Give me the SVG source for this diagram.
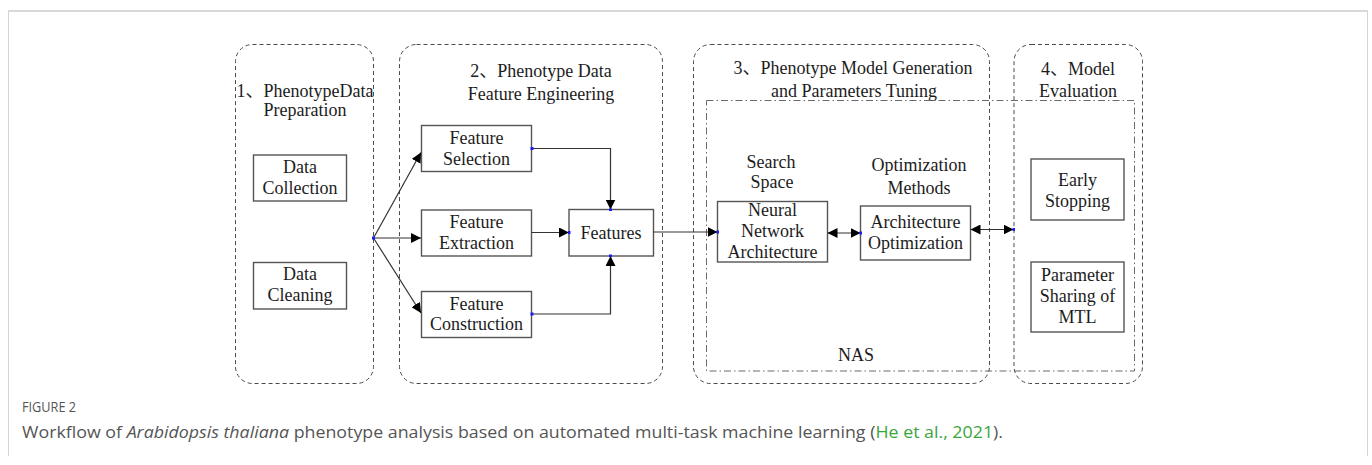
<svg xmlns="http://www.w3.org/2000/svg" width="1372" height="465" viewBox="0 0 1372 465">
  <style>
    .stage { fill: none; stroke: #4a4a4a; stroke-width: 1; stroke-dasharray: 4 3; }
    .nas { fill: none; stroke: #6a6a6a; stroke-width: 1; stroke-dasharray: 7 3 1.5 3; }
    .box { fill: #ffffff; stroke: #555555; stroke-width: 1.4; }
    .lbl { font-family: "Liberation Serif", "Noto Sans CJK SC", serif; font-size: 18px; fill: #1c1c1c; text-anchor: middle; }
    .wire { fill: none; stroke: #333333; stroke-width: 1.2; }
    .pin { fill: #1a1aff; }
    .cap { font-family: "Open Sans", "Noto Sans", sans-serif; fill: #555555; }
  </style>
  <defs>
    <marker id="head" viewBox="0 0 10 10" refX="10" refY="5" markerWidth="10" markerHeight="10" markerUnits="userSpaceOnUse" orient="auto">
      <path d="M0,0 L10,5 L0,10 Z" fill="#000000"/>
    </marker>
    <marker id="tail" viewBox="0 0 10 10" refX="0" refY="5" markerWidth="10" markerHeight="10" markerUnits="userSpaceOnUse" orient="auto">
      <path d="M10,0 L0,5 L10,10 Z" fill="#000000"/>
    </marker>
  </defs>

  <rect width="1372" height="465" fill="#ffffff"/>

  <!-- figure frame -->
  <g id="frame">
    <path d="M8.5,456 V11.5 H1367.5 V456" fill="none" stroke="#d4d4d4" stroke-width="1"/>
    <line x1="8" y1="11" x2="1368" y2="11" stroke="#d8d8d8" stroke-width="2"/>
  </g>

  <!-- stage containers -->
  <g id="stage1">
    <rect class="stage" x="235.5" y="44.5" width="138" height="339" rx="17"/>
    <text class="lbl" x="305" y="97">1、PhenotypeData</text>
    <text class="lbl" x="305" y="116">Preparation</text>
  </g>
  <g id="stage2">
    <rect class="stage" x="399.5" y="44.5" width="263" height="339" rx="17"/>
    <text class="lbl" x="541" y="77">2、Phenotype Data</text>
    <text class="lbl" x="541" y="100">Feature Engineering</text>
  </g>
  <g id="stage3">
    <rect class="stage" x="693.5" y="44.5" width="296" height="339" rx="17"/>
    <text class="lbl" x="853" y="74">3、Phenotype Model Generation</text>
    <text class="lbl" x="854" y="97">and Parameters Tuning</text>
  </g>
  <g id="stage4">
    <rect class="stage" x="1014" y="44.5" width="128.5" height="339" rx="17"/>
    <text class="lbl" x="1078" y="75">4、Model</text>
    <text class="lbl" x="1078" y="97">Evaluation</text>
  </g>

  <!-- NAS region -->
  <g id="nas">
    <rect class="nas" x="706.5" y="100.5" width="428" height="270.5"/>
    <text class="lbl" x="856" y="361">NAS</text>
    <text class="lbl" x="771" y="168">Search</text>
    <text class="lbl" x="772" y="188">Space</text>
    <text class="lbl" x="919" y="171">Optimization</text>
    <text class="lbl" x="919" y="194">Methods</text>
  </g>

  <!-- stage 1 nodes -->
  <g id="data-collection">
    <rect class="box" x="253.5" y="155" width="93" height="46"/>
    <text class="lbl" x="300" y="173">Data</text>
    <text class="lbl" x="300" y="194">Collection</text>
  </g>
  <g id="data-cleaning">
    <rect class="box" x="253.5" y="262.5" width="93" height="46.5"/>
    <text class="lbl" x="300" y="280">Data</text>
    <text class="lbl" x="300" y="301">Cleaning</text>
  </g>

  <!-- stage 2 nodes -->
  <g id="feature-selection">
    <rect class="box" x="421.5" y="125.5" width="110" height="46"/>
    <text class="lbl" x="476.5" y="144">Feature</text>
    <text class="lbl" x="476.5" y="165">Selection</text>
  </g>
  <g id="feature-extraction">
    <rect class="box" x="421.5" y="210" width="110" height="46"/>
    <text class="lbl" x="476.5" y="228">Feature</text>
    <text class="lbl" x="476.5" y="248.5">Extraction</text>
  </g>
  <g id="feature-construction">
    <rect class="box" x="421.5" y="291.5" width="110" height="46"/>
    <text class="lbl" x="476.5" y="309.5">Feature</text>
    <text class="lbl" x="476.5" y="330">Construction</text>
  </g>
  <g id="features">
    <rect class="box" x="569" y="209.5" width="84.5" height="46.5" stroke="#7a7a7a" stroke-width="1.8"/>
    <text class="lbl" x="611" y="238.5">Features</text>
  </g>

  <!-- stage 3 nodes -->
  <g id="neural-network-architecture">
    <rect class="box" x="717.5" y="201.5" width="110" height="60.5"/>
    <text class="lbl" x="772.5" y="216">Neural</text>
    <text class="lbl" x="772.5" y="237">Network</text>
    <text class="lbl" x="772.5" y="258">Architecture</text>
  </g>
  <g id="architecture-optimization">
    <rect class="box" x="860.5" y="206" width="110" height="54"/>
    <text class="lbl" x="915.5" y="228">Architecture</text>
    <text class="lbl" x="915.5" y="249">Optimization</text>
  </g>

  <!-- stage 4 nodes -->
  <g id="early-stopping">
    <rect class="box" x="1031" y="159" width="93" height="61"/>
    <text class="lbl" x="1077.5" y="186">Early</text>
    <text class="lbl" x="1077.5" y="207">Stopping</text>
  </g>
  <g id="parameter-sharing">
    <rect class="box" x="1031" y="262" width="93" height="70"/>
    <text class="lbl" x="1077.5" y="281">Parameter</text>
    <text class="lbl" x="1077.5" y="302">Sharing of</text>
    <text class="lbl" x="1077.5" y="323">MTL</text>
  </g>

  <!-- connectors -->
  <g id="connectors">
    <line class="wire" x1="373.5" y1="238" x2="421" y2="152.5" marker-end="url(#head)"/>
    <line class="wire" x1="373.5" y1="238" x2="421" y2="238" marker-end="url(#head)"/>
    <line class="wire" x1="373.5" y1="238" x2="421" y2="313" marker-end="url(#head)"/>
    <polyline class="wire" points="531.5,148.5 610.5,148.5 610.5,209.5" marker-end="url(#head)"/>
    <line class="wire" x1="531.5" y1="232.5" x2="569" y2="232.5" marker-end="url(#head)"/>
    <polyline class="wire" points="531.5,314 610.5,314 610.5,256" marker-end="url(#head)"/>
    <line class="wire" x1="653.5" y1="232" x2="717.5" y2="232" marker-end="url(#head)"/>
    <line class="wire" x1="827.5" y1="233" x2="860.5" y2="233" marker-start="url(#tail)" marker-end="url(#head)"/>
    <line class="wire" x1="970.5" y1="229.5" x2="1013.5" y2="229.5" marker-start="url(#tail)" marker-end="url(#head)"/>
    <!-- connection pins -->
    <rect class="pin" x="372" y="236.5" width="3" height="3"/>
    <rect class="pin" x="530.5" y="147" width="3" height="3"/>
    <rect class="pin" x="530.5" y="312.5" width="3" height="3"/>
    <rect class="pin" x="609" y="208.5" width="3" height="2.5"/>
    <rect class="pin" x="609" y="254.5" width="3" height="2.5"/>
    <rect class="pin" x="568" y="231" width="2.5" height="3"/>
    <rect class="pin" x="716.5" y="230.5" width="2.5" height="3"/>
    <rect class="pin" x="859.5" y="231.5" width="2.5" height="3"/>
    <rect class="pin" x="1012.5" y="228" width="2.5" height="3"/>
  </g>

  <!-- caption -->
  <g id="caption">
    <text class="cap" x="22" y="412" font-size="14" textLength="54" lengthAdjust="spacingAndGlyphs">FIGURE 2</text>
    <text class="cap" x="22" y="438" font-size="15.5" textLength="981" lengthAdjust="spacingAndGlyphs">Workflow of <tspan font-style="italic">Arabidopsis thaliana</tspan> phenotype analysis based on automated multi-task machine learning (<tspan fill="#3aa53a">He et al., 2021</tspan>).</text>
  </g>
</svg>
